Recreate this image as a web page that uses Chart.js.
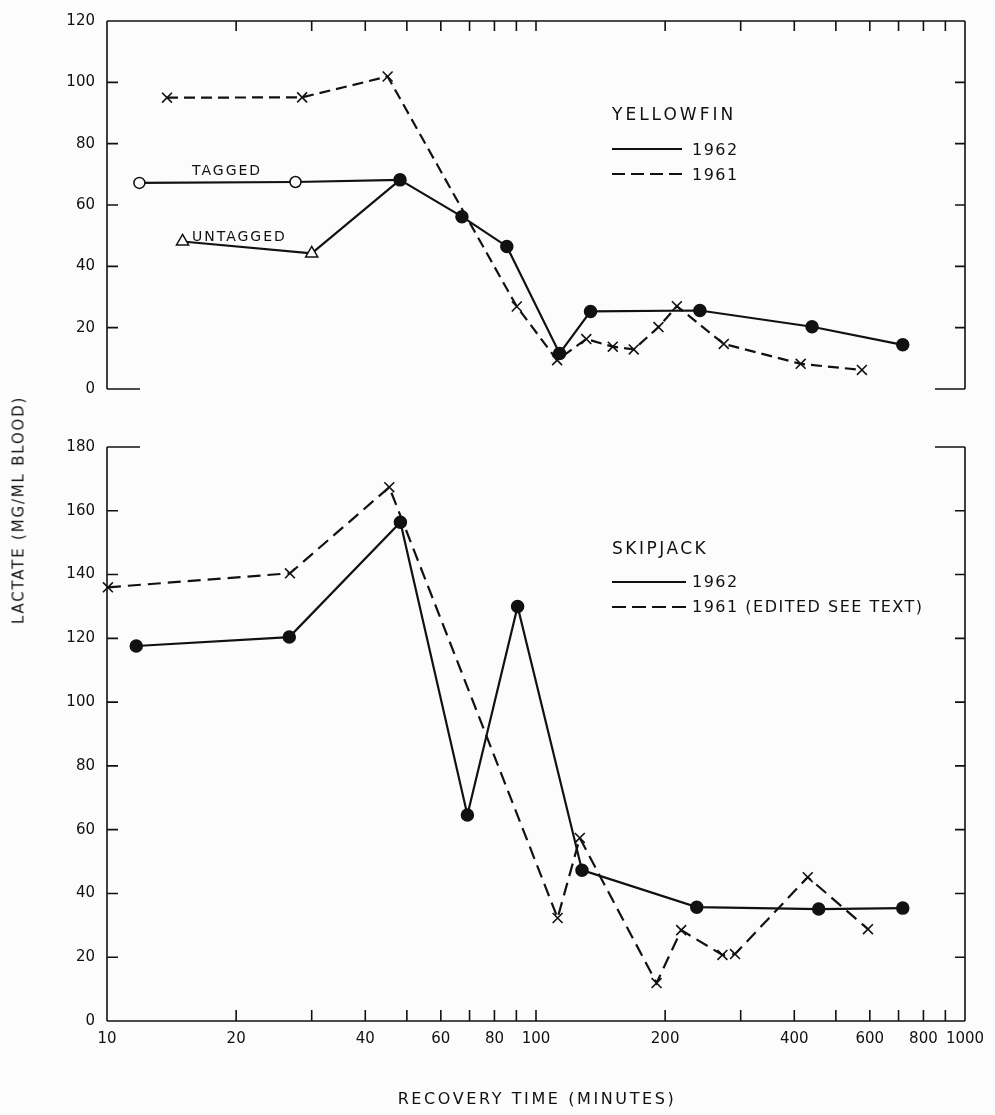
<!DOCTYPE html>
<html>
<head>
<meta charset="utf-8">
<script src="https://cdn.jsdelivr.net/npm/chart.js@4.4.1/dist/chart.umd.min.js"></script>
<style>
  body { margin: 0; background: #fcfcfc; width: 995px; height: 1115px; position: relative; overflow: hidden;
         font-family: "DejaVu Sans", sans-serif; color: #111; }
  canvas { position: absolute; left: 0; }
  #yfCanvas { top: 0; }
  #sjCanvas { top: 420px; }
  .lbl { position: absolute; white-space: nowrap; line-height: 1; }
  .key { position: absolute; }
</style>
</head>
<body>
<canvas id="yfCanvas" width="995" height="410"></canvas>
<canvas id="sjCanvas" width="995" height="695"></canvas>

<!-- yellowfin panel text -->
<div class="lbl" style="left:612px;top:106px;font-size:17px;letter-spacing:3px">YELLOWFIN</div>
<svg class="key" style="left:612px;top:144px" width="72" height="10"><line x1="0" y1="5" x2="70" y2="5" stroke="#111" stroke-width="2"/></svg>
<div class="lbl" style="left:692px;top:142px;font-size:16px;letter-spacing:1.5px">1962</div>
<svg class="key" style="left:612px;top:169px" width="72" height="10"><line x1="0" y1="5" x2="70" y2="5" stroke="#111" stroke-width="2" stroke-dasharray="13 6"/></svg>
<div class="lbl" style="left:692px;top:167px;font-size:16px;letter-spacing:1.5px">1961</div>
<div class="lbl" style="left:192px;top:163px;font-size:14px;letter-spacing:2px">TAGGED</div>
<div class="lbl" style="left:192px;top:229px;font-size:14px;letter-spacing:2px">UNTAGGED</div>

<!-- skipjack panel text -->
<div class="lbl" style="left:612px;top:540px;font-size:17px;letter-spacing:2.5px">SKIPJACK</div>
<svg class="key" style="left:612px;top:577px" width="76" height="10"><line x1="0" y1="5" x2="74" y2="5" stroke="#111" stroke-width="2"/></svg>
<div class="lbl" style="left:692px;top:574px;font-size:16px;letter-spacing:1.5px">1962</div>
<svg class="key" style="left:612px;top:602px" width="76" height="10"><line x1="0" y1="5" x2="74" y2="5" stroke="#111" stroke-width="2" stroke-dasharray="14 6"/></svg>
<div class="lbl" style="left:692px;top:599px;font-size:16px;letter-spacing:1.5px">1961 (EDITED SEE TEXT)</div>

<!-- axis titles -->
<div class="lbl" style="left:19px;top:510px;font-size:15px;letter-spacing:1.8px;transform:translate(-50%,-50%) rotate(-90deg)">LACTATE (MG/ML BLOOD)</div>
<div class="lbl" style="left:537px;top:1099px;font-size:16px;letter-spacing:2.6px;transform:translate(-50%,-50%)">RECOVERY TIME (MINUTES)</div>

<script>
// recovery time (minutes) and blood lactate
const yfTaggedTime = [11.9, 27.5, 48.2];
const yfTaggedLactate = [67.2, 67.5, 68.2];
const yfUntaggedTime = [15.0, 30.0, 48.2];
const yfUntaggedLactate = [48.1, 44.2, 68.2];
const yf1962Time = [48.2, 67.2, 85.5, 113.5, 134, 241, 440, 716];
const yf1962Lactate = [68.2, 56.2, 46.5, 11.6, 25.3, 25.6, 20.3, 14.4];
const yf1961Time = [13.8, 28.5, 45.1, 90.2, 112, 131, 151, 169, 193, 213, 274, 414, 575];
const yf1961Lactate = [95.0, 95.1, 101.9, 26.9, 9.4, 16.3, 13.8, 12.9, 20.2, 27.0, 14.7, 8.2, 6.2];

const sj1962Time = [11.7, 26.6, 48.3, 69.2, 90.6, 128, 237, 456, 716];
const sj1962Lactate = [117.6, 120.4, 156.4, 64.6, 130.0, 47.3, 35.7, 35.1, 35.4];
const sj1961Time = [10.05, 26.7, 45.5, 112.3, 126.5, 191, 218, 272, 291, 430, 594];
const sj1961Lactate = [136.0, 140.4, 167.4, 32.3, 57.4, 11.9, 28.5, 20.7, 21.0, 45.1, 28.8];

// axis ticks
const xLabelTicks = [10, 20, 40, 60, 80, 100, 200, 400, 600, 800, 1000];
const xMinorTicks = [20, 30, 40, 50, 60, 70, 80, 90, 100, 200, 300, 400, 500, 600, 700, 800, 900];
const yfYTicks = [0, 20, 40, 60, 80, 100, 120];
const sjYTicks = [0, 20, 40, 60, 80, 100, 120, 140, 160, 180];

const INK = '#111';
const pts = (xs, ys) => xs.map((x, i) => ({ x: x, y: ys[i] }));

// box with inward ticks; open edges only get short stubs like the original
const framePlugin = {
  id: 'frame',
  afterDraw(chart, args, opts) {
    const { ctx, chartArea: a, scales } = chart;
    const stub = 33;
    ctx.save();
    ctx.strokeStyle = INK;
    ctx.lineWidth = 1.6;
    ctx.beginPath();
    ctx.moveTo(a.left, a.top); ctx.lineTo(a.left, a.bottom);
    ctx.moveTo(a.right, a.top); ctx.lineTo(a.right, a.bottom);
    const edge = (py, full) => {
      if (full) { ctx.moveTo(a.left, py); ctx.lineTo(a.right, py); }
      else {
        ctx.moveTo(a.left, py); ctx.lineTo(a.left + stub, py);
        ctx.moveTo(a.right - stub + 3, py); ctx.lineTo(a.right, py);
      }
    };
    edge(a.top, opts.topFull);
    edge(a.bottom, opts.bottomFull);
    opts.yTicks.forEach(v => {
      const py = scales.y.getPixelForValue(v);
      if (py > a.top + 2 && py < a.bottom - 2) {
        ctx.moveTo(a.left, py); ctx.lineTo(a.left + 11, py);
        ctx.moveTo(a.right, py); ctx.lineTo(a.right - 10, py);
      }
    });
    xMinorTicks.forEach(v => {
      const px = scales.x.getPixelForValue(v);
      if (opts.xTickSide === 'top') { ctx.moveTo(px, a.top); ctx.lineTo(px, a.top + 10); }
      else { ctx.moveTo(px, a.bottom); ctx.lineTo(px, a.bottom - 11); }
    });
    ctx.stroke();
    ctx.restore();
  }
};

const solid = (data, extra) => Object.assign({
  data: data, showLine: true, borderColor: INK, borderWidth: 2.2, backgroundColor: INK,
  pointRadius: 6, pointBorderWidth: 1.5, pointBorderColor: INK, clip: false
}, extra);
const dashed = (data, extra) => Object.assign({
  data: data, showLine: true, borderColor: INK, borderWidth: 2.2, borderDash: [11, 6],
  pointStyle: 'crossRot', pointRadius: 7, pointBorderWidth: 1.6, pointBorderColor: INK,
  backgroundColor: 'rgba(0,0,0,0)', clip: false
}, extra);

const yAxis = (max, ticks) => ({
  type: 'linear', min: 0, max: max,
  afterBuildTicks: s => { s.ticks = ticks.map(v => ({ value: v })); },
  afterFit: s => { s.width = 107; },
  grid: { display: false, drawTicks: false },
  border: { display: false },
  ticks: { color: INK, padding: 12, font: { family: 'DejaVu Sans', size: 15 } }
});

const baseOpts = {
  responsive: false,
  animation: false,
  events: [],
  plugins: { legend: { display: false }, tooltip: { enabled: false } }
};

// --- Yellowfin (top) ---
new Chart(document.getElementById('yfCanvas'), {
  type: 'scatter',
  data: {
    datasets: [
      solid(pts(yf1962Time, yf1962Lactate)),
      solid(pts(yfTaggedTime, yfTaggedLactate), { backgroundColor: '#fcfcfc', pointRadius: [5.5, 5.5, 0] }),
      solid(pts(yfUntaggedTime, yfUntaggedLactate), { pointStyle: 'triangle', backgroundColor: '#fcfcfc', pointRadius: [7, 7, 0] }),
      dashed(pts(yf1961Time, yf1961Lactate))
    ]
  },
  options: Object.assign({}, baseOpts, {
    layout: { padding: { left: 0, right: 30, top: 14, bottom: 12 } },
    scales: {
      x: { type: 'logarithmic', min: 10, max: 1000, display: false },
      y: yAxis(120, yfYTicks)
    },
    plugins: Object.assign({}, baseOpts.plugins, {
      frame: { topFull: true, bottomFull: false, xTickSide: 'top', yTicks: yfYTicks }
    })
  }),
  plugins: [framePlugin]
});

// --- Skipjack (bottom) ---
new Chart(document.getElementById('sjCanvas'), {
  type: 'scatter',
  data: {
    datasets: [
      solid(pts(sj1962Time, sj1962Lactate)),
      dashed(pts(sj1961Time, sj1961Lactate), { borderDash: [13, 7] })
    ]
  },
  options: Object.assign({}, baseOpts, {
    layout: { padding: { left: 0, right: 30, top: 27, bottom: 54 } },
    scales: {
      x: {
        type: 'logarithmic', min: 10, max: 1000,
        afterBuildTicks: s => { s.ticks = xLabelTicks.map(v => ({ value: v })); },
        afterFit: s => { s.height = 40; },
        grid: { display: false, drawTicks: false },
        border: { display: false },
        ticks: { color: INK, padding: 9, maxRotation: 0, autoSkip: false,
                 font: { family: 'DejaVu Sans', size: 15 }, callback: v => String(v) }
      },
      y: yAxis(180, sjYTicks)
    },
    plugins: Object.assign({}, baseOpts.plugins, {
      frame: { topFull: false, bottomFull: true, xTickSide: 'bottom', yTicks: sjYTicks }
    })
  }),
  plugins: [framePlugin]
});
</script>
</body>
</html>
